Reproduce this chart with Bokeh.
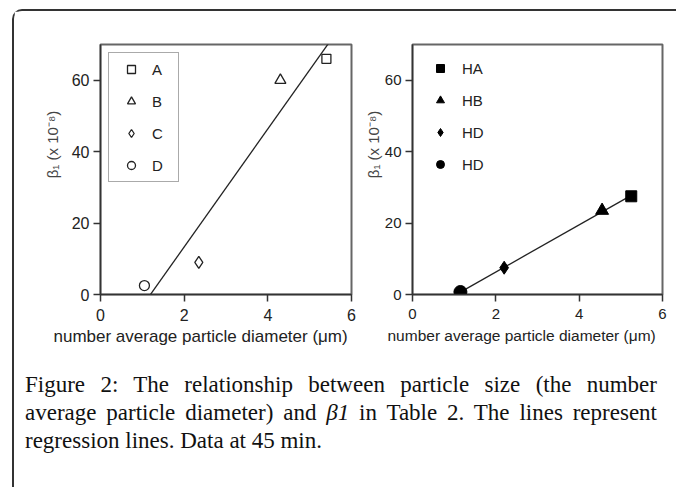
import numpy as np
from bokeh.plotting import figure
from bokeh.models import Legend, LegendItem, FixedTicker, Div, Title
from bokeh.layouts import column, row
from bokeh.embed import file_html
from bokeh.resources import INLINE

# ---- data ----
left_labels = ["A", "B", "C", "D"]
left_markers = ["square", "triangle", "diamond", "circle"]
left_x = [5.4, 4.3, 2.35, 1.05]
left_y = [66.0, 60.0, 9.0, 2.5]

right_labels = ["HA", "HB", "HD", "HD"]
right_markers = ["square", "triangle", "diamond", "circle"]
right_x = [5.25, 4.55, 2.2, 1.15]
right_y = [27.5, 23.5, 7.5, 0.7]

x_ticks = [0, 2, 4, 6]
y_ticks = [0, 20, 40, 60]
x_title = "number average particle diameter (\u03bcm)"
y_title = "\u03b2\u2081 (x 10\u207b\u2078)"

FONT = "Liberation Sans"
TXT = "#222222"
AX = "#333333"
NB = "\u00a0"


def make_fig(width, left_border, right_border, fs, xfs, xoff, xstand, ylab, ystand):
    p = figure(width=width, height=343, x_range=(0, 6), y_range=(0, 70),
               min_border_left=left_border, min_border_right=right_border,
               min_border_top=33, min_border_bottom=60,
               output_backend="svg", toolbar_location=None)
    p.grid.visible = False
    p.outline_line_color = "#666666"
    p.outline_line_width = 2
    p.xaxis.ticker = FixedTicker(ticks=x_ticks)
    p.yaxis.ticker = FixedTicker(ticks=y_ticks)
    for ax in (p.xaxis[0], p.yaxis[0]):
        ax.axis_line_color = AX
        ax.axis_line_width = 1.5
        ax.major_tick_line_color = AX
        ax.major_tick_line_width = 1.5
        ax.major_tick_out = 7
        ax.major_tick_in = 0
        ax.minor_tick_line_color = None
        ax.major_label_text_font = FONT
        ax.major_label_text_font_size = fs
        ax.major_label_text_color = TXT
        ax.axis_label_text_font = FONT
        ax.axis_label_text_font_style = "normal"
    p.xaxis.major_label_standoff = 7
    p.yaxis.major_label_standoff = 4
    p.yaxis.axis_label = ylab
    p.yaxis.axis_label_text_font_size = "15px"
    p.yaxis.axis_label_text_color = "#444444"
    p.yaxis.axis_label_standoff = ystand
    p.add_layout(Title(text=x_title, align="left", offset=xoff,
                       vertical_align="top", standoff=xstand,
                       text_font=FONT, text_font_size=xfs,
                       text_font_style="normal", text_color=TXT), "below")
    return p


# ---- left panel ----
p1 = make_fig(347, 86, 10, "16px", "17px", -47, 6, NB * 12 + y_title, 8)
m1, b1 = np.polyfit(left_x, left_y, 1)
p1.line([0, 6], [b1, m1 * 6 + b1], line_color="#222222", line_width=1.3)
items1 = []
left_sizes = [9, 11, 12, 10]
for lab, mk, x, y, s in zip(left_labels, left_markers, left_x, left_y, left_sizes):
    r = p1.scatter([x], [y], marker=mk, size=s, line_color="#222222",
                   line_width=1.3, fill_color="white")
    items1.append(LegendItem(label=lab, renderers=[r]))
leg1 = Legend(items=items1, location="top_left", margin=8, padding=6,
              spacing=12, label_height=20, glyph_height=20, glyph_width=32,
              label_standoff=5, border_line_color="#555555", border_line_width=1.5,
              label_text_font=FONT, label_text_font_size="15px",
              label_text_color=TXT, background_fill_color="white")
p1.add_layout(leg1)

# ---- right panel ----
p2 = make_fig(315, 50, 14, "15px", "15.5px", -25, 10, NB * 12 + y_title, 0)
m2, b2 = np.polyfit(right_x, right_y, 1)
xs2 = [min(right_x), max(right_x)]
p2.line(xs2, [m2 * v + b2 for v in xs2], line_color="#222222", line_width=1.3)
items2 = []
right_sizes = [11, 13, 13, 13]
for lab, mk, x, y, s in zip(right_labels, right_markers, right_x, right_y, right_sizes):
    r = p2.scatter([x], [y], marker=mk, size=s, line_color="black",
                   fill_color="black")
    items2.append(LegendItem(label=lab, renderers=[r]))
leg2 = Legend(items=items2, location="top_left", margin=8, padding=6,
              spacing=12, label_height=20, glyph_height=20, glyph_width=28,
              label_standoff=8, border_line_alpha=0, background_fill_alpha=0,
              label_text_font=FONT, label_text_font_size="15px",
              label_text_color=TXT)
p2.add_layout(leg2)

# ---- caption ----
cap_style = ("font-family:'Liberation Serif',serif;font-size:23px;"
             "line-height:28px;color:#111;")
just = "text-align:justify;text-align-last:justify;white-space:nowrap;"
cap_html = (
    f'<div style="width:632px;{cap_style}">'
    f'<div style="{just}">'
    'Figure 2: The relationship between particle size (the number</div>'
    f'<div style="{just}">'
    'average particle diameter) and <i>\u03b21</i> in Table 2. The lines represent</div>'
    '<div>regression lines. Data at 45 min.</div></div>'
)
cap = Div(text=cap_html, width=632, height=116, margin=(17, 0, 0, 11))

layout = column(row(p1, p2), cap, margin=(9, 0, 0, 12),
                styles={"border-top": "2px solid #333",
                        "border-left": "2px solid #333",
                        "border-top-left-radius": "10px"})

open("out.html", "w").write(file_html(layout, INLINE))
